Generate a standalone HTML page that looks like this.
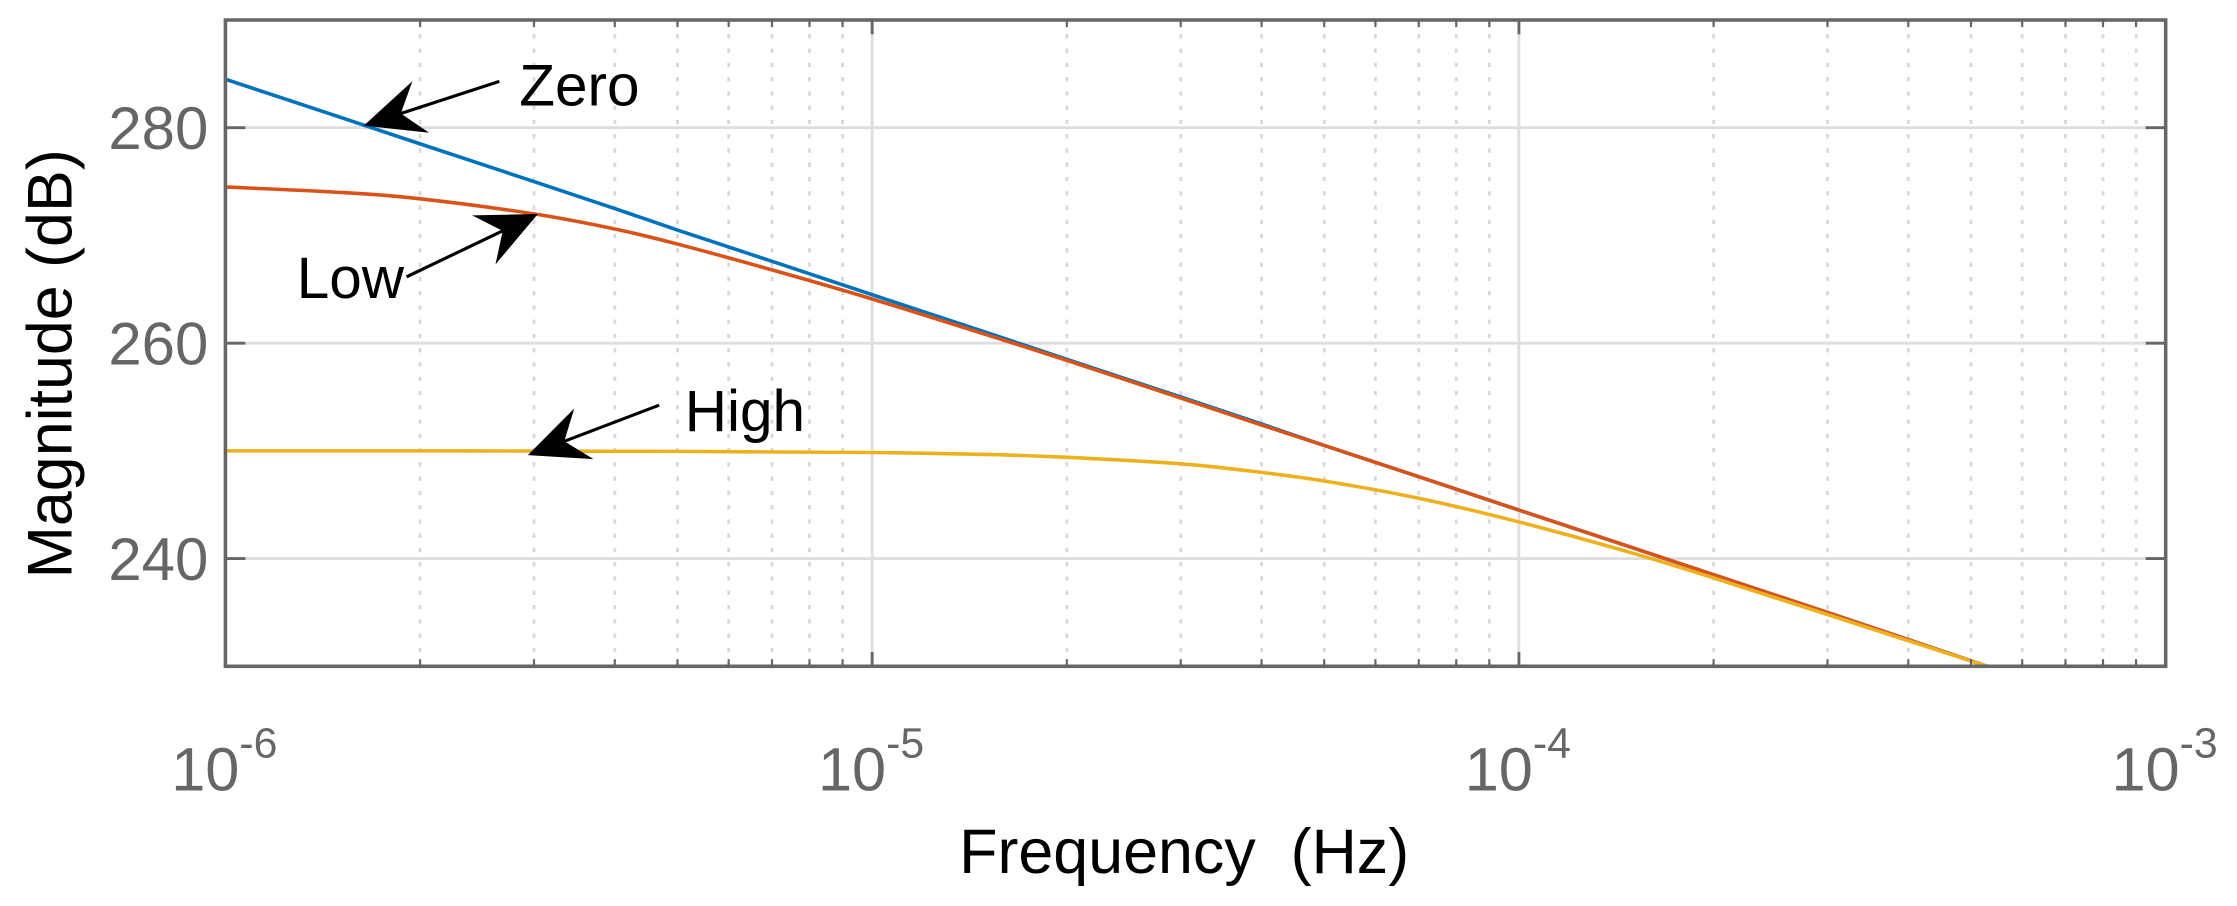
<!DOCTYPE html>
<html><head><meta charset="utf-8"><style>
html,body{margin:0;padding:0;background:#fff;}
svg{display:block;}
text{font-family:"Liberation Sans",Arial,sans-serif;}
</style></head><body>
<svg id="chart" width="2237" height="906" viewBox="0 0 1568 635" xmlns="http://www.w3.org/2000/svg">
<g id="grid"></g>
<g id="series"></g>
<g id="axes"></g>
<g id="annot"></g>
</svg>
<script>
const freqs    = [1e-6, 1.5e-6, 2e-6, 3e-6, 4e-6, 5e-6, 7e-6, 1e-5, 1.5e-5, 2e-5, 3e-5, 4e-5, 5e-5, 7e-5, 1e-4, 1.5e-4, 2e-4, 3e-4, 5.3e-4];
const zeroVals = [284.5, 281.0, 278.5, 275.0, 272.5, 270.5, 267.6, 264.5, 261.0, 258.5, 255.0, 252.5, 250.5, 247.6, 244.5, 241.0, 238.5, 235.0, 230.0];
const lowVals  = [274.5, 274.0, 273.4, 272.0, 270.6, 269.2, 266.8, 264.1, 260.8, 258.4, 254.9, 252.4, 250.5, 247.6, 244.5, 241.0, 238.5, 235.0, 230.0];
const highVals = [250.0, 250.0, 250.0, 249.98, 249.96, 249.95, 249.9, 249.85, 249.67, 249.4, 248.8, 248.0, 247.2, 245.6, 243.4, 240.5, 238.2, 234.8, 230.0];
const yTicks = [240, 260, 280];
const xDecades = [-6, -5, -4, -3];
const seriesNames = ["zero", "low", "high"];

const NS = "http://www.w3.org/2000/svg";
const L = 158, R = 1518, T = 14, B = 467;
const xMin = -6, xMax = -3, yMin = 230, yMax = 290;
function xs(f){ return L + (Math.log10(f) - xMin) / (xMax - xMin) * (R - L); }
function ys(v){ return B - (v - yMin) / (yMax - yMin) * (B - T); }
function mk(tag, attrs, parent){
  const e = document.createElementNS(NS, tag);
  for (const k in attrs) e.setAttribute(k, attrs[k]);
  parent.appendChild(e); return e;
}
const grid = document.getElementById('grid');
const axes = document.getElementById('axes');
const series = document.getElementById('series');
const annot = document.getElementById('annot');

for (let d = xMin; d < xMax; d++) {
  for (let m = 2; m <= 9; m++) {
    const x = xs(m * Math.pow(10, d));
    const g = mk('line', {x1:x, x2:x, y1:T, y2:B, stroke:'#d9d9d9', 'stroke-width':2, 'stroke-dasharray':'3 7'}, grid);
    
    
    const t1 = mk('line', {x1:x, x2:x, y1:B, y2:B-5, stroke:'#666', 'stroke-width':1.5}, axes);
    
    
    const t2 = mk('line', {x1:x, x2:x, y1:T, y2:T+5, stroke:'#666', 'stroke-width':1.5}, axes);
    
    
  }
}
xDecades.forEach(d => {
  const x = xs(Math.pow(10, d));
  if (d > xMin && d < xMax) {
    const g = mk('line', {x1:x, x2:x, y1:T, y2:B, stroke:'#dedede', 'stroke-width':2}, grid);
    
    
  }
  const t1 = mk('line', {x1:x, x2:x, y1:B, y2:B-10, stroke:'#666', 'stroke-width':2}, axes);
  
  
  const t2 = mk('line', {x1:x, x2:x, y1:T, y2:T+10, stroke:'#666', 'stroke-width':2}, axes);
  
  
  const tx = mk('text', {x:x-38, y:554, fill:'#666', 'font-size':43}, axes);
  
  
  tx.textContent = '10';
  const sup = mk('tspan', {dy:-23, 'font-size':30}, tx);
  sup.textContent = String(d);
});
yTicks.forEach(v => {
  const y = ys(v);
  const g = mk('line', {x1:L, x2:R, y1:y, y2:y, stroke:'#dedede', 'stroke-width':2}, grid);
  
  
  const t1 = mk('line', {x1:L, x2:L+14, y1:y, y2:y, stroke:'#666', 'stroke-width':2}, axes);
  
  
  const t2 = mk('line', {x1:R, x2:R-14, y1:y, y2:y, stroke:'#666', 'stroke-width':2}, axes);
  
  
  const tx = mk('text', {x:146, y:y+15, fill:'#666', 'font-size':42, 'text-anchor':'end'}, axes);
  
  
  tx.textContent = String(v);
});
const box = mk('rect', {x:L, y:T, width:R-L, height:B-T, fill:'none', stroke:'#666', 'stroke-width':2.5}, axes);


const xt = mk('text', {x:830, y:612, 'font-size':44, 'text-anchor':'middle', fill:'#000'}, axes);


xt.textContent = 'Frequency\u00a0\u00a0(Hz)';
const yt = mk('text', {x:0, y:0, 'font-size':44, 'text-anchor':'middle', fill:'#000', transform:'translate(50,255) rotate(-90)'}, axes);


yt.textContent = 'Magnitude (dB)';

function pathFor(vals){
  const p = freqs.map((f,i) => [xs(f), ys(vals[i])]);
  let d = 'M' + p[0][0] + ',' + p[0][1];
  for (let i = 0; i < p.length - 1; i++) {
    const p0 = p[Math.max(0,i-1)], p1 = p[i], p2 = p[i+1], p3 = p[Math.min(p.length-1,i+2)];
    const c1 = [p1[0] + (p2[0]-p0[0])/6, p1[1] + (p2[1]-p0[1])/6];
    const c2 = [p2[0] - (p3[0]-p1[0])/6, p2[1] - (p3[1]-p1[1])/6];
    d += ' C' + c1[0] + ',' + c1[1] + ' ' + c2[0] + ',' + c2[1] + ' ' + p2[0] + ',' + p2[1];
  }
  return d;
}
const colors = ['#0072BD', '#D95319', '#EDB120'];
[zeroVals, lowVals, highVals].forEach((vals, i) => {
  const pth = mk('path', {d:pathFor(vals), fill:'none', stroke:colors[i], 'stroke-width':2.5}, series);
  
  
});

function arrow(x1,y1,x2,y2,name){
  const g = mk('g', {}, annot);
  
  
  const dx = x2-x1, dy = y2-y1, len = Math.hypot(dx,dy), ux = dx/len, uy = dy/len;
  const hl = 42, hw = 19;
  const bx = x2 - ux*hl, by = y2 - uy*hl;
  const nx = bx + ux*hl*0.35, ny = by + uy*hl*0.35;
  mk('line', {x1:x1, y1:y1, x2:nx, y2:ny, stroke:'#000', 'stroke-width':2.2}, g);
  mk('polygon', {points:[x2,y2, bx-uy*hw,by+ux*hw, nx,ny, bx+uy*hw,by-ux*hw].join(','), fill:'#000'}, g);
}
arrow(350,57,255,88,'zero-arrow');
arrow(285,194,377,150,'low-arrow');
arrow(462,284,370,319,'high-arrow');
[['Zero',364,74,'zero-label'],['Low',208,209,'low-label'],['High',480,302,'high-label']].forEach(a => {
  const t = mk('text', {x:a[1], y:a[2], 'font-size':41, fill:'#000'}, annot);
  
  
  t.textContent = a[0];
});
</script>
</body></html>
